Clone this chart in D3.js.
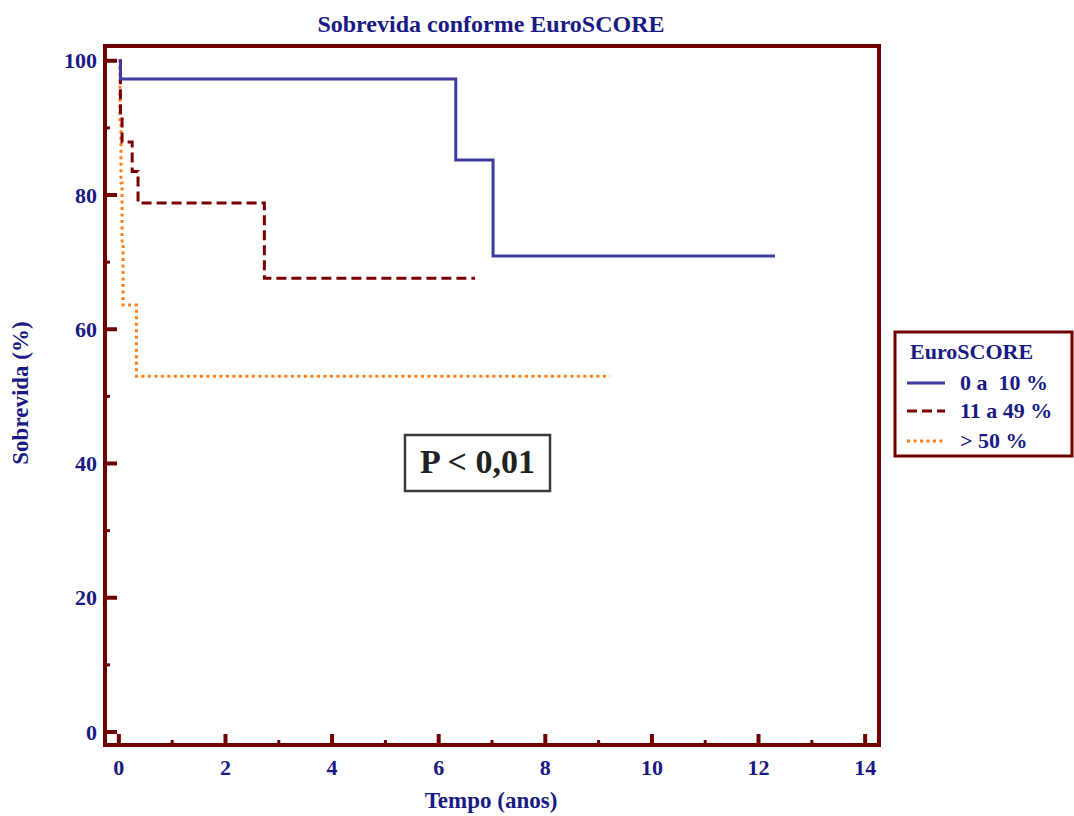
<!DOCTYPE html>
<html><head><meta charset="utf-8">
<script src="https://cdn.jsdelivr.net/npm/d3@7"></script>
<style>
html,body{margin:0;padding:0;background:#fff;}
svg text{font-family:"Liberation Serif","Times New Roman",serif;font-weight:bold;white-space:pre;}
</style></head>
<body>
<svg id="chart" width="1074" height="816"></svg>
<script>
// ---- data ----
const seriesNames = ["0 a  10 %", "11 a 49 %", "> 50 %"];
// Kaplan-Meier step points: [time (years), survival (%)]
const lowTimes  = [0, 0.03, 6.32, 7.02, 12.31];
const lowSurv   = [100, 97.3, 85.2, 70.9, 70.9];
const midTimes  = [0, 0.03, 0.06, 0.25, 0.36, 2.73, 6.68];
const midSurv   = [100, 91.9, 87.9, 83.5, 78.8, 67.6, 67.6];
const highTimes = [0, 0.02, 0.04, 0.06, 0.08, 0.33, 9.21];
const highSurv  = [100, 90.9, 81.8, 72.7, 63.6, 53.0, 53.0];
const xMajorTicks = [0, 2, 4, 6, 8, 10, 12, 14];
const xMinorTicks = [1, 3, 5, 7, 9, 11, 13];
const yMajorTicks = [0, 20, 40, 60, 80, 100];
const yMinorTicks = [10, 30, 50, 70, 90];
const titleText = "Sobrevida conforme EuroSCORE";
const xLabel = "Tempo (anos)";
const yLabel = "Sobrevida (%)";
const legendTitle = "EuroSCORE";
const pText = "P < 0,01";

// ---- styles ----
const navy = "#1a1a84";
const maroon = "#6e0000";
const colors = ["#3c3ca2", "#7a0000", "#ff8018"];
const dashes = [null, "10,5", "3,3.5"];

const svg = d3.select("#chart");
const L = 105, R = 879, T = 46, B = 745;
const x = d3.scaleLinear().domain([-0.26, 14.26]).range([L, R]);
const y = d3.scaleLinear().domain([-1.94, 102.2]).range([B, T]);

// title
svg.append("text").attr("x", 491).attr("y", 32).attr("text-anchor", "middle")
  .attr("font-size", 24).attr("fill", navy).text(titleText);

// curves
const series = [
  lowTimes.map((t, i) => [t, lowSurv[i]]),
  midTimes.map((t, i) => [t, midSurv[i]]),
  highTimes.map((t, i) => [t, highSurv[i]])
];
const line = d3.line().x(d => x(d[0])).y(d => y(d[1])).curve(d3.curveStepAfter);
[2, 1, 0].forEach(i => {
  svg.append("path").attr("d", line(series[i])).attr("fill", "none")
    .attr("stroke", colors[i]).attr("stroke-width", 3)
    .attr("stroke-dasharray", dashes[i]);
});

// frame
svg.append("rect").attr("x", L).attr("y", T).attr("width", R - L).attr("height", B - T)
  .attr("fill", "none").attr("stroke", maroon).attr("stroke-width", 4);

// y ticks (inward)
const gy = svg.append("g");
gy.selectAll("line.maj").data(yMajorTicks).join("line")
  .attr("x1", L).attr("x2", L + 12).attr("y1", d => y(d)).attr("y2", d => y(d))
  .attr("stroke", maroon).attr("stroke-width", 4);
gy.selectAll("line.min").data(yMinorTicks).join("line").attr("class", "min")
  .attr("x1", L).attr("x2", L + 5).attr("y1", d => y(d)).attr("y2", d => y(d))
  .attr("stroke", maroon).attr("stroke-width", 3);
gy.selectAll("text").data(yMajorTicks).join("text")
  .attr("x", 97).attr("y", d => y(d)).attr("dy", "0.35em").attr("text-anchor", "end")
  .attr("font-size", 22).attr("fill", navy).text(d => d);

// x ticks (inward)
const gx = svg.append("g");
gx.selectAll("line.maj").data(xMajorTicks).join("line")
  .attr("x1", d => x(d)).attr("x2", d => x(d)).attr("y1", B).attr("y2", B - 11)
  .attr("stroke", maroon).attr("stroke-width", 4);
gx.selectAll("line.min").data(xMinorTicks).join("line").attr("class", "min")
  .attr("x1", d => x(d)).attr("x2", d => x(d)).attr("y1", B).attr("y2", B - 5)
  .attr("stroke", maroon).attr("stroke-width", 3);
gx.selectAll("text").data(xMajorTicks).join("text")
  .attr("x", d => x(d)).attr("y", 775).attr("text-anchor", "middle")
  .attr("font-size", 22).attr("fill", navy).text(d => d);

// axis labels
svg.append("text").attr("x", 491).attr("y", 808).attr("text-anchor", "middle")
  .attr("font-size", 23).attr("fill", navy).text(xLabel);
svg.append("text").attr("transform", "translate(28,393) rotate(-90)").attr("text-anchor", "middle")
  .attr("font-size", 23).attr("fill", navy).text(yLabel);

// P-value box
svg.append("rect").attr("x", 405).attr("y", 435).attr("width", 145).attr("height", 56)
  .attr("fill", "#fff").attr("stroke", "#3a3a3a").attr("stroke-width", 2.5);
svg.append("text").attr("x", 477.5).attr("y", 473).attr("text-anchor", "middle")
  .attr("font-size", 34).attr("fill", "#222").text(pText);

// legend
svg.append("rect").attr("x", 895).attr("y", 332).attr("width", 177).attr("height", 124)
  .attr("fill", "#fff").attr("stroke", maroon).attr("stroke-width", 3);
svg.append("text").attr("x", 910).attr("y", 359).attr("font-size", 22).attr("fill", navy).text(legendTitle);
const legY = [383, 411, 441];
seriesNames.forEach((n, i) => {
  svg.append("line").attr("x1", 907).attr("x2", 945).attr("y1", legY[i]).attr("y2", legY[i])
    .attr("stroke", colors[i]).attr("stroke-width", 3).attr("stroke-dasharray", dashes[i]);
  svg.append("text").attr("x", 960).attr("y", legY[i] + 7).attr("font-size", 22)
    .attr("fill", navy).text(n);
});
</script>
</body></html>
